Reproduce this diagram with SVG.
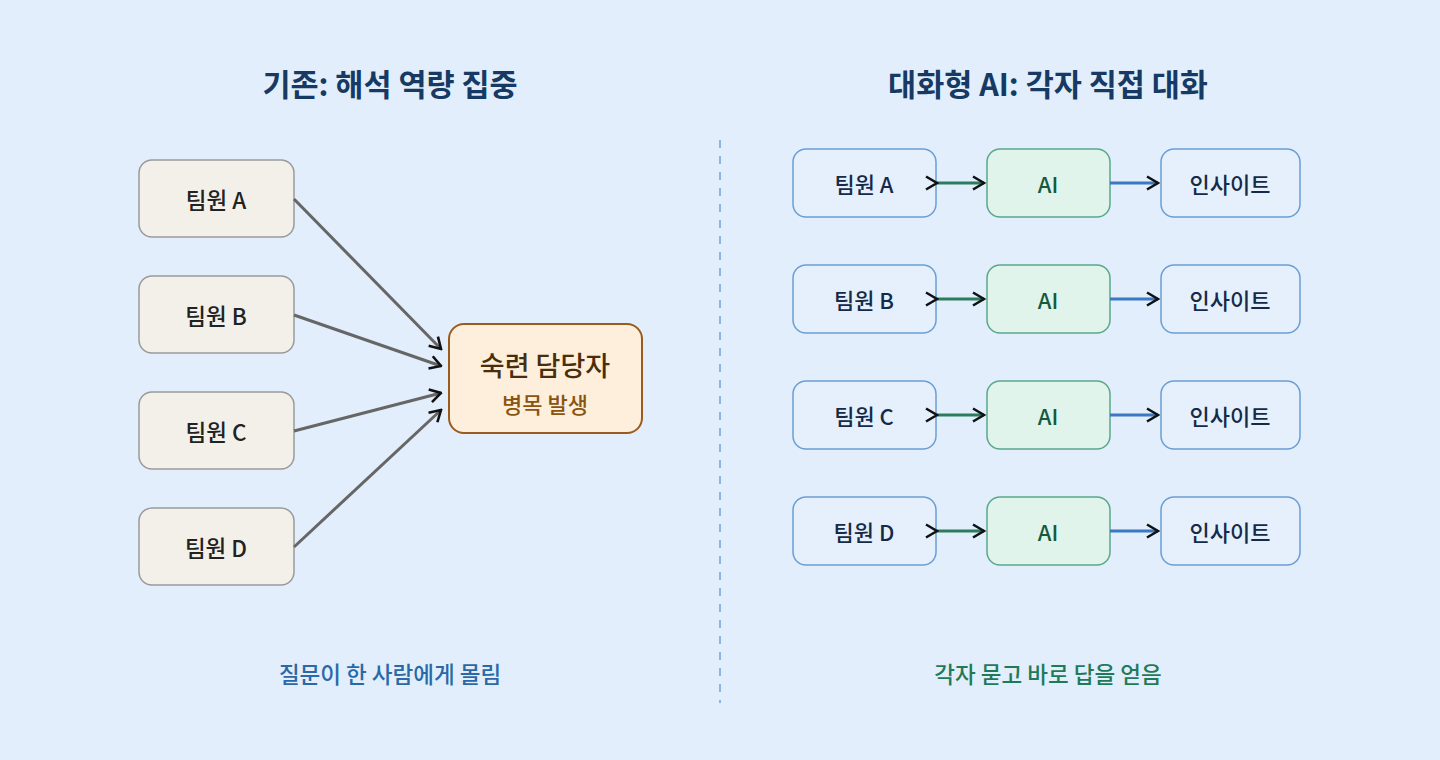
<svg xmlns="http://www.w3.org/2000/svg" width="1440" height="760" viewBox="0 0 1440 760">
<defs>
<style>
text{font-family:"Noto Sans CJK KR","Noto Sans",sans-serif;text-anchor:middle;dominant-baseline:central}
.title{font-size:30.5px;font-weight:700;fill:#163a63}
.member{fill:#f3f0ea;stroke:#9a9a9a;stroke-width:1.5}
.mtext{font-size:22.5px;font-weight:500;fill:#222}
.rbox{fill:#e6f0fc;stroke:#6a9fd4;stroke-width:1.5}
.aibox{fill:#e1f4ec;stroke:#5aa88a;stroke-width:1.5}
.rtext{font-size:22px;font-weight:500;fill:#142a48}
.aitext{font-size:22px;font-weight:500;fill:#145a3c}
.gray{stroke:#666;stroke-width:3;fill:none}
.green{stroke:#2a7d5c;stroke-width:3;fill:none}
.blue{stroke:#3a78c0;stroke-width:3;fill:none}
</style>
<marker id="chev" viewBox="0 0 14 16" refX="12.5" refY="8" markerWidth="14" markerHeight="16" markerUnits="userSpaceOnUse" orient="auto">
<path d="M1.5,1.5 L12.5,8 L1.5,14.5" fill="none" stroke="#111" stroke-width="2.6"/>
</marker>
</defs>
<rect width="1440" height="760" fill="#e2eefc"/>
<text class="title" x="390" y="83">기존: 해석 역량 집중</text>
<text class="title" x="1048" y="83">대화형 AI: 각자 직접 대화</text>
<line x1="720" y1="140" x2="720" y2="703" stroke="#8fb4e0" stroke-width="2" stroke-dasharray="8 8"/>
<g id="left-a"><rect class="member" x="139" y="160" width="155" height="77" rx="13"/><text class="mtext" x="216" y="199">팀원 A</text></g>
<g id="left-b"><rect class="member" x="139" y="276" width="155" height="77" rx="13"/><text class="mtext" x="216" y="315">팀원 B</text></g>
<g id="left-c"><rect class="member" x="139" y="392" width="155" height="77" rx="13"/><text class="mtext" x="216" y="431">팀원 C</text></g>
<g id="left-d"><rect class="member" x="139" y="508" width="155" height="77" rx="13"/><text class="mtext" x="216" y="547">팀원 D</text></g>
<g id="expert">
<rect x="449" y="324" width="193" height="109" rx="15" fill="#fdefdb" stroke="#9a5b1e" stroke-width="2"/>
<text x="545" y="364" font-size="27" font-weight="500" fill="#4a2e0c">숙련 담당자</text>
<text x="545" y="403" font-size="22" font-weight="500" fill="#8a5410">병목 발생</text>
</g>
<g id="row-a">
<rect class="rbox" x="793" y="149" width="143" height="68" rx="13"/><text class="rtext" x="864" y="183">팀원 A</text>
<rect class="aibox" x="987" y="149" width="123" height="68" rx="13"/><text class="aitext" x="1048" y="183">AI</text>
<rect class="rbox" x="1161" y="149" width="139" height="68" rx="13"/><text class="rtext" x="1230" y="183">인사이트</text>
</g>
<g id="row-b">
<rect class="rbox" x="793" y="265" width="143" height="68" rx="13"/><text class="rtext" x="864" y="299">팀원 B</text>
<rect class="aibox" x="987" y="265" width="123" height="68" rx="13"/><text class="aitext" x="1048" y="299">AI</text>
<rect class="rbox" x="1161" y="265" width="139" height="68" rx="13"/><text class="rtext" x="1230" y="299">인사이트</text>
</g>
<g id="row-c">
<rect class="rbox" x="793" y="381" width="143" height="68" rx="13"/><text class="rtext" x="864" y="415">팀원 C</text>
<rect class="aibox" x="987" y="381" width="123" height="68" rx="13"/><text class="aitext" x="1048" y="415">AI</text>
<rect class="rbox" x="1161" y="381" width="139" height="68" rx="13"/><text class="rtext" x="1230" y="415">인사이트</text>
</g>
<g id="row-d">
<rect class="rbox" x="793" y="497" width="143" height="68" rx="13"/><text class="rtext" x="864" y="531">팀원 D</text>
<rect class="aibox" x="987" y="497" width="123" height="68" rx="13"/><text class="aitext" x="1048" y="531">AI</text>
<rect class="rbox" x="1161" y="497" width="139" height="68" rx="13"/><text class="rtext" x="1230" y="531">인사이트</text>
</g>
<g id="connectors">
<line class="gray" x1="294" y1="199" x2="441" y2="349" marker-end="url(#chev)"/>
<line class="gray" x1="294" y1="315" x2="441" y2="366" marker-end="url(#chev)"/>
<line class="gray" x1="294" y1="431" x2="441" y2="393" marker-end="url(#chev)"/>
<line class="gray" x1="294" y1="547" x2="441" y2="410" marker-end="url(#chev)"/>
<line class="green" x1="937" y1="183" x2="984" y2="183" marker-start="url(#chev)" marker-end="url(#chev)"/>
<line class="blue" x1="1110" y1="183" x2="1158" y2="183" marker-end="url(#chev)"/>
<line class="green" x1="937" y1="299" x2="984" y2="299" marker-start="url(#chev)" marker-end="url(#chev)"/>
<line class="blue" x1="1110" y1="299" x2="1158" y2="299" marker-end="url(#chev)"/>
<line class="green" x1="937" y1="415" x2="984" y2="415" marker-start="url(#chev)" marker-end="url(#chev)"/>
<line class="blue" x1="1110" y1="415" x2="1158" y2="415" marker-end="url(#chev)"/>
<line class="green" x1="937" y1="531" x2="984" y2="531" marker-start="url(#chev)" marker-end="url(#chev)"/>
<line class="blue" x1="1110" y1="531" x2="1158" y2="531" marker-end="url(#chev)"/>
</g>
<text x="390" y="673" font-size="22.5" font-weight="500" fill="#2a68a6">질문이 한 사람에게 몰림</text>
<text x="1048" y="673" font-size="22.5" font-weight="500" fill="#1f7a58">각자 묻고 바로 답을 얻음</text>
</svg>
